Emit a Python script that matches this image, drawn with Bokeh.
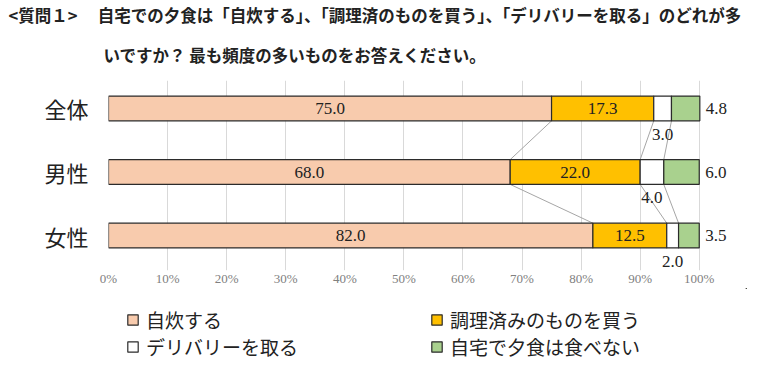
import numpy as np
from bokeh.plotting import figure
from bokeh.layouts import column
from bokeh.models import (Range1d, FixedTicker, ColumnDataSource, LabelSet,
                          Legend, LegendItem, Title)
from bokeh.embed import file_html
from bokeh.resources import INLINE

# ---- data ----
categories = ["全体", "男性", "女性"]
series_names = ["自炊する", "調理済みのものを買う", "デリバリーを取る", "自宅で夕食は食べない"]
jisui = [75.0, 68.0, 82.0]
chouri = [17.3, 22.0, 12.5]
delivery = [3.0, 4.0, 2.0]
tabenai = [4.8, 6.0, 3.5]
tick_values = [0, 10, 20, 30, 40, 50, 60, 70, 80, 90, 100]
tick_labels = ["0%", "10%", "20%", "30%", "40%", "50%", "60%", "70%", "80%", "90%", "100%"]
title_line1 = "<質問１>\u3000  自宅での夕食は「自炊する」、「調理済のものを買う」、「デリバリーを取る」のどれが多"
title_line2 = "いですか？ 最も頻度の多いものをお答えください。"

colors = ["#F8CBAD", "#FFC000", "#FFFFFF", "#A9D18E"]
JP = "Noto Sans CJK JP"
SERIF = "Liberation Serif"

series = [jisui, chouri, delivery, tabenai]
ypos = np.arange(len(categories))[::-1].astype(float)
bar_h = 0.39

vals = np.array(series)               # shape (4, 3)
right = np.cumsum(vals, axis=0)
left = right - vals

p = figure(frame_width=638, frame_height=190,
           x_range=Range1d(0, 108), y_range=Range1d(-0.55, 2.44),
           output_backend="svg", toolbar_location=None,
           min_border_left=108, min_border_right=34, min_border_top=0,
           min_border_bottom=0, outline_line_color=None)

p.title.text = title_line1
p.title.text_font = JP
p.title.text_font_size = "16.5px"
p.title.text_font_style = "bold"
p.title.text_color = "#222222"
p.title.offset = -100
p.title.standoff = 0

t2 = Title(text=title_line2, text_font=JP, text_font_size="16.5px",
           text_font_style="bold", text_color="#222222", offset=-5, standoff=28)
p.add_layout(t2, "above")

# series lines
xs0, ys0, xs1, ys1 = [], [], [], []
for k in range(3):
    for i in range(len(categories) - 1):
        xs0.append(right[k][i]); ys0.append(ypos[i] - bar_h / 2)
        xs1.append(right[k][i + 1]); ys1.append(ypos[i + 1] + bar_h / 2)
p.segment(xs0, ys0, xs1, ys1, line_color="#a6a6a6", line_width=1)

for k in range(4):
    p.hbar(y=ypos, left=left[k], right=right[k], height=bar_h,
           fill_color=colors[k], line_color="#2b2b2b", line_width=1.2)

# labels inside (first two series)
for k in range(2):
    src = ColumnDataSource(dict(x=(left[k] + right[k]) / 2, y=ypos,
                                t=[f"{v:.1f}" for v in series[k]]))
    p.add_layout(LabelSet(x="x", y="y", text="t", source=src, text_align="center",
                          text_baseline="middle", text_font=SERIF,
                          text_font_size="17px", text_color="#222222"))
# delivery labels below the bar
src = ColumnDataSource(dict(x=(left[2] + right[2]) / 2, y=ypos - bar_h / 2,
                            t=[f"{v:.1f}" for v in delivery]))
p.add_layout(LabelSet(x="x", y="y", text="t", source=src, text_align="center",
                      text_baseline="top", y_offset=-8, text_font=SERIF,
                      text_font_size="17px", text_color="#222222"))
# last series labels to the right
src = ColumnDataSource(dict(x=right[3], y=ypos, t=[f"{v:.1f}" for v in tabenai]))
p.add_layout(LabelSet(x="x", y="y", text="t", source=src, text_align="left",
                      text_baseline="middle", x_offset=6, text_font=SERIF,
                      text_font_size="17px", text_color="#222222"))

# axes
p.xaxis.ticker = FixedTicker(ticks=tick_values)
p.xaxis.major_label_overrides = {v: l for v, l in zip(tick_values, tick_labels)}
p.xaxis.axis_line_color = None
p.xaxis.major_tick_line_color = None
p.xaxis.minor_tick_line_color = None
p.xaxis.major_tick_out = 0
p.xaxis.major_label_standoff = 0
p.xaxis.major_label_text_font = SERIF
p.xaxis.major_label_text_font_size = "13px"
p.xaxis.major_label_text_color = "#808080"

p.yaxis.ticker = FixedTicker(ticks=list(ypos))
p.yaxis.major_label_overrides = {float(y): c for y, c in zip(ypos, categories)}
p.yaxis.axis_line_color = None
p.yaxis.major_tick_line_color = None
p.yaxis.minor_tick_line_color = None
p.yaxis.major_tick_out = 0
p.yaxis.major_label_standoff = 20
p.yaxis.major_label_text_font = JP
p.yaxis.major_label_text_font_size = "22px"
p.yaxis.major_label_text_color = "#222222"

p.xgrid.grid_line_color = "#d9d9d9"
p.ygrid.grid_line_color = None

# legend figure: same series styles; its view range hides the bars themselves
pl = figure(width=780, height=77, x_axis_type=None, y_axis_type=None,
            x_range=Range1d(-20, -10), y_range=Range1d(-20, -10),
            output_backend="svg", toolbar_location=None, title=None,
            min_border=0, min_border_left=64, outline_line_color=None)
leg_renderers = []
for k in range(4):
    leg_renderers.append(pl.hbar(y=ypos, left=left[k], right=right[k], height=bar_h,
                                 fill_color=colors[k], line_color="#2b2b2b", line_width=1.2))
legend = Legend(items=[LegendItem(label=n, renderers=[r]) for n, r in zip(series_names, leg_renderers)],
                orientation="horizontal", ncols=2, location="top_left",
                margin=18, padding=0, spacing=0, glyph_width=13, glyph_height=13,
                label_standoff=7, label_width=284, label_height=20,
                label_text_font=JP, label_text_font_size="19px",
                label_text_color="#222222", background_fill_alpha=0,
                border_line_alpha=0)
pl.add_layout(legend)

open("out.html", "w").write(file_html(column(p, pl), INLINE))
